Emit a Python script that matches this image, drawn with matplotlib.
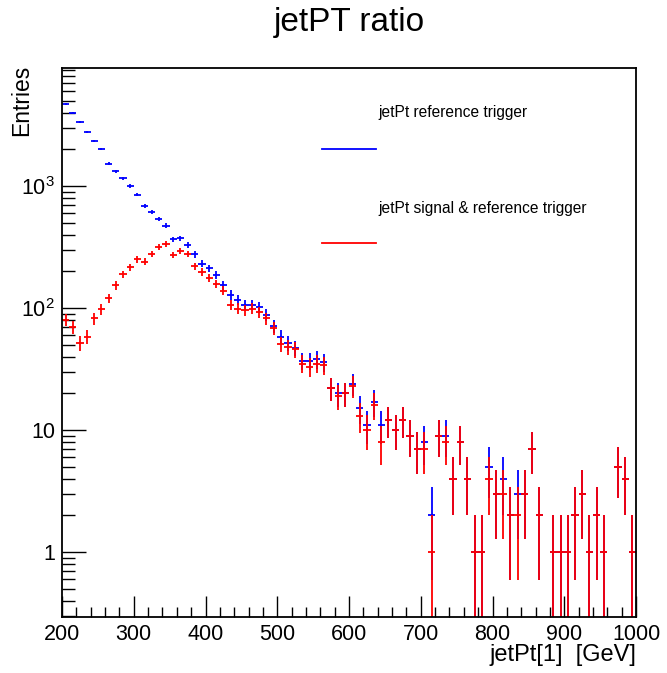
import numpy as np
import matplotlib
matplotlib.use("Agg")
import matplotlib.pyplot as plt
from matplotlib.lines import Line2D
from matplotlib.ticker import FixedLocator, FuncFormatter, LogLocator, MultipleLocator

plt.rcParams['font.family'] = ['Liberation Sans', 'DejaVu Sans']
plt.rcParams['mathtext.fontset'] = 'custom'
plt.rcParams['mathtext.rm'] = 'Liberation Sans'
plt.rcParams['mathtext.it'] = 'Liberation Sans:italic'

# histogram binning: 80 bins of 10 GeV from 200 to 1000
bin_edges = np.arange(200, 1001, 10)

# jetPt reference trigger (blue)
ref_counts = [4700, 3950, 3350, 2750, 2350, 2000, 1520, 1320, 1160, 1000,
              850, 680, 615, 537, 473, 366, 373, 328, 275, 230,
              211, 186, 154, 128, 116, 106, 106, 101, 88, 71,
              58, 52, 47, 37, 37, 38, 36, 22, 20, 20,
              24, 15, 11, 17, 11, 12, 10, 12, 9, 7,
              8, 2, 9, 9, 4, 8, 4, 1, 1, 5,
              3, 4, 2, 3, 3, 7, 2, 0, 1, 1,
              1, 2, 3, 1, 2, 1, 0, 5, 4, 1]

# jetPt signal & reference trigger (red)
sig_counts = [80, 70, 52, 58, 82, 98, 120, 154, 189, 216,
              251, 240, 276, 318, 333, 272, 295, 276, 221, 198,
              175, 157, 139, 106, 99, 96, 99, 93, 82, 68,
              51, 48, 46, 35, 33, 35, 34, 22, 19, 20,
              23, 13, 10, 16, 8, 12, 10, 12, 9, 7,
              7, 1, 9, 8, 4, 8, 4, 1, 1, 4,
              3, 3, 2, 2, 3, 7, 2, 0, 1, 1,
              1, 2, 3, 1, 2, 1, 0, 5, 4, 1]

labels = ["jetPt reference trigger", "jetPt signal & reference trigger"]
colors = ["#0000ff", "#ff0000"]

centers = 0.5 * (bin_edges[:-1] + bin_edges[1:])
half_width = 0.5 * np.diff(bin_edges)

fig = plt.figure(figsize=(6.67, 6.73), dpi=100)
ax = fig.add_axes([62 / 667, 1 - 617 / 673, 574 / 667, 549 / 673])
ax.set_yscale('log', nonpositive='clip')

for counts, c in zip([ref_counts, sig_counts], colors):
    n = np.array(counts, dtype=float)
    ok = n > 0
    err = np.sqrt(n[ok])
    # sqrt(N) errors; when N - sqrt(N) <= 0 the bar runs off the bottom of the log axis
    lower = np.where(n[ok] - err <= 0, n[ok] - 1e-3, err)
    ax.errorbar(centers[ok], n[ok], xerr=half_width[ok], yerr=[lower, err],
                fmt='none', ecolor=c, elinewidth=1.3, capsize=0)

ax.set_xlim(200, 1000)
ax.set_ylim(0.293, 9270)

# ROOT-like ticks: inside, left and bottom only
ax.xaxis.set_major_locator(MultipleLocator(100))
ax.xaxis.set_minor_locator(MultipleLocator(20))
ax.yaxis.set_major_locator(FixedLocator([1, 10, 100, 1000]))
ax.yaxis.set_minor_locator(LogLocator(base=10, subs=np.arange(2, 10), numticks=20))

def ylab(v, pos):
    if v >= 100:
        return r'$10^{%d}$' % int(round(np.log10(v)))
    return '%d' % v

ax.yaxis.set_major_formatter(FuncFormatter(ylab))
ax.tick_params(axis='both', which='both', direction='in', top=False, right=False,
               labelsize=15.5, color='black')
ax.tick_params(axis='x', which='major', length=15, width=1, pad=5)
ax.tick_params(axis='x', which='minor', length=7, width=1)
ax.tick_params(axis='y', which='major', length=17, width=1, pad=5)
ax.tick_params(axis='y', which='minor', length=9, width=1)
for s in ax.spines.values():
    s.set_linewidth(1.3)

fig.text(349 / 667, 1 - 22 / 673, "jetPT ratio", ha='center', va='center', fontsize=24)
fig.text(22 / 667, 1 - 65 / 673, "Entries", rotation=90, ha='center', va='top', fontsize=16.5)
fig.text(636 / 667, 1 - 655 / 673, "jetPt[1]  [GeV]", ha='right', va='center', fontsize=17)

# legend drawn ROOT-style: text above, line below
for i, (lab, c) in enumerate(zip(labels, colors)):
    ty = 113 + 95 * i
    ly = 149 + 94 * i
    fig.text(378 / 667, 1 - ty / 673, lab, ha='left', va='center', fontsize=11.2)
    fig.add_artist(Line2D([322 / 667, 376 / 667], [1 - ly / 673, 1 - ly / 673],
                          color=c, lw=1.3, transform=fig.transFigure))

fig.savefig("out.png", dpi=100)
